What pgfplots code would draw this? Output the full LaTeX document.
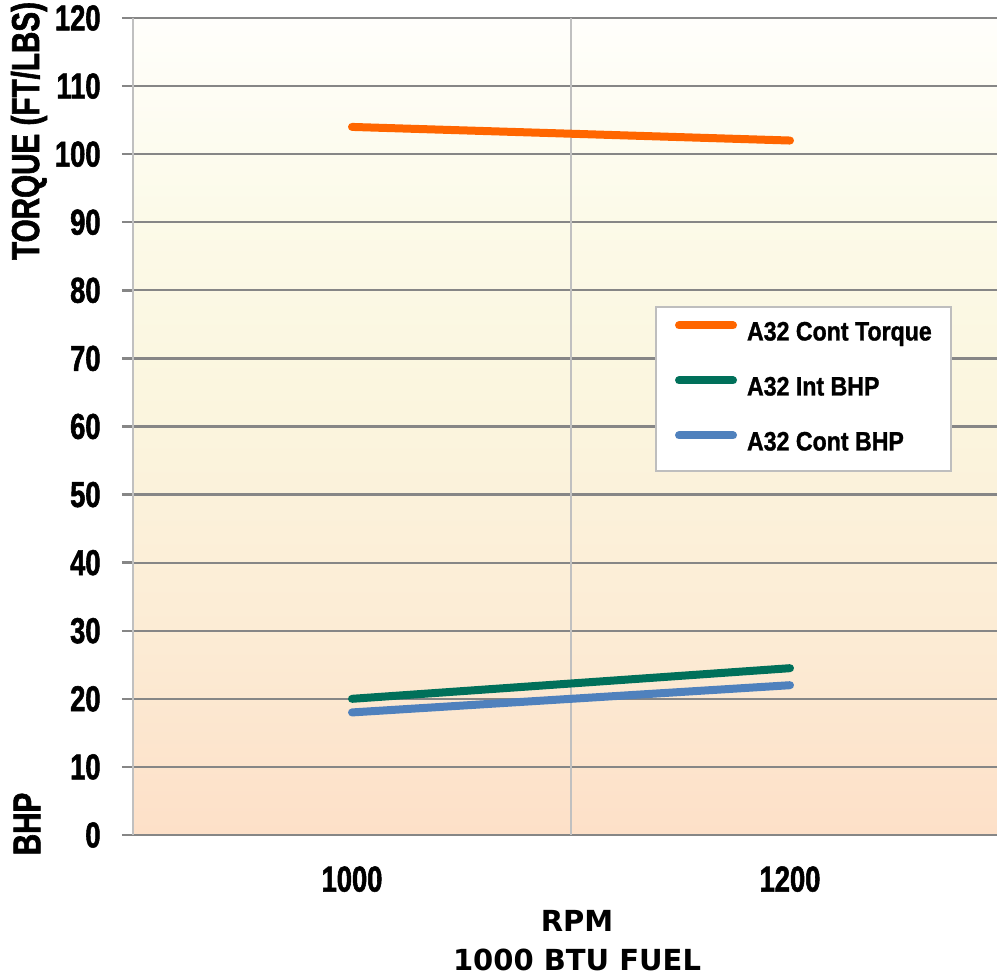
\documentclass[border=0pt]{standalone}
\usepackage{pgfplots}
\pgfplotsset{compat=1.18}
\usepackage{fontspec}
\setmainfont{Liberation Sans}
\newfontfamily\narrow[FakeStretch=0.76, FakeBold=1.5]{Liberation Sans}
\newfontfamily\legfont[FakeStretch=0.87, FakeBold=1.2]{Liberation Sans}
\newfontfamily\dvs{DejaVu Sans}
\definecolor{torq}{RGB}{255,102,0}
\definecolor{intbhp}{RGB}{0,112,90}
\definecolor{contbhp}{RGB}{79,129,189}
\definecolor{axgray}{RGB}{134,134,134}
\definecolor{gridgray}{RGB}{134,134,134}
\definecolor{vgray}{RGB}{192,192,192}
\definecolor{leggray}{RGB}{190,190,190}
\pgfdeclareverticalshading{chartbg}{100bp}{%
  rgb(0bp)=(0.992,0.878,0.784);
  rgb(25bp)=(0.992,0.878,0.784);
  rgb(37.5bp)=(0.988,0.925,0.835);
  rgb(52.5bp)=(0.984,0.965,0.875);
  rgb(62.5bp)=(0.988,0.980,0.910);
  rgb(75bp)=(1,0.998,0.985);
  rgb(100bp)=(1,0.998,0.985)}
\begin{document}
\begin{tikzpicture}
\begin{axis}[
  at={(0,0)}, anchor=south west,
  scale only axis, width=432pt, height=408.5pt,
  xmin=0.5, xmax=2.4726, ymin=0, ymax=120,
  ytick={0,10,...,120},
  xtick={1,2}, xticklabels={1000,1200},
  axis lines=left,
  axis line style={-, draw=axgray, line width=1.2pt},
  tick align=outside,
  major tick length=5.5pt,
  x tick style={draw=none},
  y tick style={draw=axgray, line width=1.2pt},
  ymajorgrids,
  major grid style={gridgray, line width=1.1pt},
  extra x ticks={0.5,1.5}, extra x tick labels={},
  extra x tick style={grid=major, major grid style={vgray, line width=1.2pt},
     tick style={draw=axgray, line width=1.2pt}, major tick length=6pt},
  /pgf/number format/assume math mode=true,
  ticklabel style={font=\narrow\bfseries\fontsize{18}{20}\selectfont, inner sep=0pt},
  yticklabel style={anchor=east, xshift=-10.5pt},
  xticklabel style={anchor=north, yshift=-10pt},
  axis background/.style={shading=chartbg},
  legend cell align=left,
  legend style={at={(axis description cs:0.6042,0.6475)}, anchor=north west,
     draw=leggray, line width=1pt, fill=white,
     inner xsep=9.5pt, inner ysep=7.25pt, row sep=15pt, column sep=5pt,
     nodes={inner sep=0pt, text height=9pt, text depth=3pt},
     font=\legfont\bfseries\fontsize{13.3}{15}\selectfont},
  legend image code/.code={\draw[#1, line cap=round] (0pt,4.5pt) -- (27pt,4.5pt);},
]
\addplot[torq, line width=4pt, line cap=round] coordinates {(1,104) (2,102)};
\addlegendentry{A32 Cont Torque}
\addplot[intbhp, line width=4pt, line cap=round] coordinates {(1,20) (2,24.5)};
\addlegendentry{A32 Int BHP}
\addplot[contbhp, line width=4pt, line cap=round] coordinates {(1,18) (2,22)};
\addlegendentry{A32 Cont BHP}
\end{axis}
\node[rotate=90, font=\narrow\bfseries\fontsize{19.5}{21}\selectfont] at (-52pt,352pt) {TORQUE (FT/LBS)};
\node[rotate=90, font=\narrow\bfseries\fontsize{19.5}{21}\selectfont] at (-53pt,5.5pt) {BHP};
\node[anchor=base, font=\dvs\bfseries\fontsize{14.5}{16}\selectfont] at (222pt,-48.5pt) {RPM};
\node[anchor=base, font=\dvs\bfseries\fontsize{14.5}{16}\selectfont] at (222pt,-68pt) {1000 BTU FUEL};
\pgfresetboundingbox
\useasboundingbox (-66.5pt,-71.5pt) rectangle (432pt,417.5pt);
\end{tikzpicture}
\end{document}
